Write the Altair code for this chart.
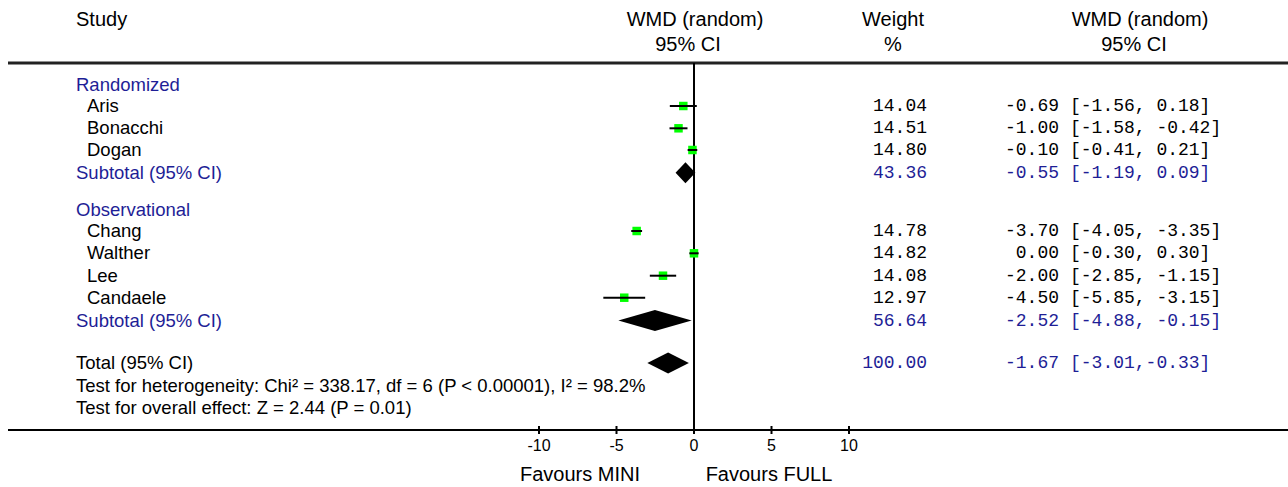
import altair as alt
import pandas as pd

# ---------------- data ----------------
groups = ["Randomized", "Observational"]
studies = ["Aris", "Bonacchi", "Dogan", "Chang", "Walther", "Lee", "Candaele"]
est = [-0.69, -1.00, -0.10, -3.70, 0.00, -2.00, -4.50]
ci_lo = [-1.56, -1.58, -0.41, -4.05, -0.30, -2.85, -5.85]
ci_hi = [0.18, -0.42, 0.21, -3.35, 0.30, -1.15, -3.15]
weights = [14.04, 14.51, 14.80, 14.78, 14.82, 14.08, 12.97]

pooled_labels = ["Subtotal (95% CI)", "Subtotal (95% CI)", "Total (95% CI)"]
pooled_est = [-0.55, -2.52, -1.67]
pooled_lo = [-1.19, -4.88, -3.01]
pooled_hi = [0.09, -0.15, -0.33]
pooled_w = [43.36, 56.64, 100.00]

tests = ["Test for heterogeneity: Chi\u00b2 = 338.17, df = 6 (P < 0.00001), I\u00b2 = 98.2%",
         "Test for overall effect: Z = 2.44 (P = 0.01)"]
ticks = [-10, -5, 0, 5, 10]

# ---------------- layout (pixels) ----------------
W, H = 1288, 487
BLUE = "#1e1e96"
GREEN = "#00ff00"
study_y = [106, 128.3, 150, 231, 253.3, 275.7, 297.7]
group_y = [84.5, 209.5]
pooled_y = [172.7, 320.5, 363]
test_y = [386, 408]
diamond_half = 10.5
X_LEFT, X_INDENT = 76, 87
X_WEIGHT_R, X_EST_R, X_CI_L = 927, 1059, 1070
AXIS_Y, TOP_Y = 430, 63

xscale = alt.Scale(domain=[-10, 10], range=[694 - 155, 694 + 155], nice=False, zero=False)

SANS = "Liberation Sans"
MONO = "Liberation Mono"

# ---------------- tables ----------------
df_st = pd.DataFrame({"study": studies, "est": est, "lo": ci_lo, "hi": ci_hi, "y": study_y})

dia_rows = []
for i, (e, l, h, y) in enumerate(zip(pooled_est, pooled_lo, pooled_hi, pooled_y)):
    dia_rows += [
        {"id": i, "x": l, "yt": y, "yb": y},
        {"id": i, "x": e, "yt": y - diamond_half, "yb": y + diamond_half},
        {"id": i, "x": h, "yt": y, "yb": y},
    ]
df_dia = pd.DataFrame(dia_rows)

left = []
left.append({"t": groups[0], "px": X_LEFT, "py": group_y[0], "c": BLUE})
for i in range(3):
    left.append({"t": studies[i], "px": X_INDENT, "py": study_y[i], "c": "black"})
left.append({"t": pooled_labels[0], "px": X_LEFT, "py": pooled_y[0], "c": BLUE})
left.append({"t": groups[1], "px": X_LEFT, "py": group_y[1], "c": BLUE})
for i in range(3, 7):
    left.append({"t": studies[i], "px": X_INDENT, "py": study_y[i], "c": "black"})
left.append({"t": pooled_labels[1], "px": X_LEFT, "py": pooled_y[1], "c": BLUE})
left.append({"t": pooled_labels[2], "px": X_LEFT, "py": pooled_y[2], "c": "black"})
for t, y in zip(tests, test_y):
    left.append({"t": t, "px": X_LEFT, "py": y, "c": "black"})
df_left = pd.DataFrame(left)

right_cols, left_cols = [], []
for i in range(7):
    right_cols.append({"t": f"{weights[i]:.2f}", "px": X_WEIGHT_R, "py": study_y[i], "c": "black"})
    right_cols.append({"t": f"{est[i]:.2f}", "px": X_EST_R, "py": study_y[i], "c": "black"})
    left_cols.append({"t": f"[{ci_lo[i]:.2f}, {ci_hi[i]:.2f}]", "px": X_CI_L, "py": study_y[i], "c": "black"})
for j in range(3):
    right_cols.append({"t": f"{pooled_w[j]:.2f}", "px": X_WEIGHT_R, "py": pooled_y[j], "c": BLUE})
    right_cols.append({"t": f"{pooled_est[j]:.2f}", "px": X_EST_R, "py": pooled_y[j], "c": BLUE})
    sep = "," if j == 2 else ", "
    left_cols.append({"t": f"[{pooled_lo[j]:.2f}{sep}{pooled_hi[j]:.2f}]", "px": X_CI_L,
                      "py": pooled_y[j], "c": BLUE})
df_r = pd.DataFrame(right_cols)
df_l = pd.DataFrame(left_cols)

headers = pd.DataFrame([
    {"t": "Study", "px": X_LEFT, "py": 20, "a": "left"},
    {"t": "WMD (random)", "px": 695, "py": 20, "a": "center"},
    {"t": "95% CI", "px": 688, "py": 45, "a": "center"},
    {"t": "Weight", "px": 893, "py": 20, "a": "center"},
    {"t": "%", "px": 893, "py": 45, "a": "center"},
    {"t": "WMD (random)", "px": 1140, "py": 20, "a": "center"},
    {"t": "95% CI", "px": 1134, "py": 45, "a": "center"},
])
fav = pd.DataFrame([
    {"t": "Favours MINI", "px": 580, "py": 475},
    {"t": "Favours FULL", "px": 769, "py": 475},
])
df_ticks = pd.DataFrame({"v": ticks, "lab": [str(t) for t in ticks]})
df_zero = pd.DataFrame({"v": [0]})

PX = alt.X("px:Q", scale=None)
PY = alt.Y("py:Q", scale=None)

# ---------------- layers ----------------
top_rule = alt.Chart(df_zero).mark_rule(strokeWidth=3, color="#222").encode(
    x=alt.value(8), x2=alt.value(W), y=alt.value(TOP_Y))
axis_line = alt.Chart(df_zero).mark_rule(strokeWidth=2, color="black").encode(
    x=alt.value(8), x2=alt.value(W), y=alt.value(AXIS_Y))
zero_line = alt.Chart(df_zero).mark_rule(strokeWidth=2, color="black").encode(
    x=alt.X("v:Q", scale=xscale, axis=None), y=alt.value(TOP_Y), y2=alt.value(AXIS_Y))
tick_marks = alt.Chart(df_ticks).mark_rule(strokeWidth=2, color="black").encode(
    x=alt.X("v:Q", scale=xscale, axis=None), y=alt.value(AXIS_Y - 4), y2=alt.value(AXIS_Y + 4))
tick_labels = alt.Chart(df_ticks).mark_text(font=SANS, fontSize=16, baseline="middle", color="black").encode(
    x=alt.X("v:Q", scale=xscale, axis=None), y=alt.value(446), text="lab:N")

squares = alt.Chart(df_st).mark_square(size=72, color=GREEN, opacity=1, filled=True).encode(
    x=alt.X("est:Q", scale=xscale, axis=None), y=alt.Y("y:Q", scale=None))
ci_lines = alt.Chart(df_st).mark_rule(strokeWidth=2, color="black").encode(
    x=alt.X("lo:Q", scale=xscale, axis=None), x2="hi:Q", y=alt.Y("y:Q", scale=None))
diamonds = alt.Chart(df_dia).mark_area(color="black", opacity=1).encode(
    x=alt.X("x:Q", scale=xscale, axis=None), y=alt.Y("yt:Q", scale=None), y2="yb:Q",
    detail="id:N")

hdr_left = alt.Chart(headers[headers.a == "left"]).mark_text(
    font=SANS, fontSize=20, baseline="middle", align="left", color="black").encode(x=PX, y=PY, text="t:N")
hdr_center = alt.Chart(headers[headers.a == "center"]).mark_text(
    font=SANS, fontSize=20, baseline="middle", align="center", color="black").encode(x=PX, y=PY, text="t:N")

left_txt = alt.Chart(df_left).mark_text(font=SANS, fontSize=18.5, baseline="middle", align="left").encode(
    x=PX, y=PY, text="t:N", color=alt.Color("c:N", scale=None))
r_txt = alt.Chart(df_r).mark_text(font=MONO, fontSize=18, baseline="middle", align="right").encode(
    x=PX, y=PY, text="t:N", color=alt.Color("c:N", scale=None))
l_txt = alt.Chart(df_l).mark_text(font=MONO, fontSize=18, baseline="middle", align="left").encode(
    x=PX, y=PY, text="t:N", color=alt.Color("c:N", scale=None))
fav_txt = alt.Chart(fav).mark_text(font=SANS, fontSize=20, baseline="middle", align="center", color="black").encode(
    x=PX, y=PY, text="t:N")

chart = alt.layer(
    top_rule, axis_line, zero_line, tick_marks, tick_labels,
    diamonds, squares, ci_lines,
    hdr_left, hdr_center, left_txt, r_txt, l_txt, fav_txt,
).properties(
    width=W, height=H, padding=0, autosize=alt.AutoSizeParams(type="none"), background="white"
).configure_view(stroke=None)

chart.save("out.html", embed_options={"renderer": "svg", "actions": False})
